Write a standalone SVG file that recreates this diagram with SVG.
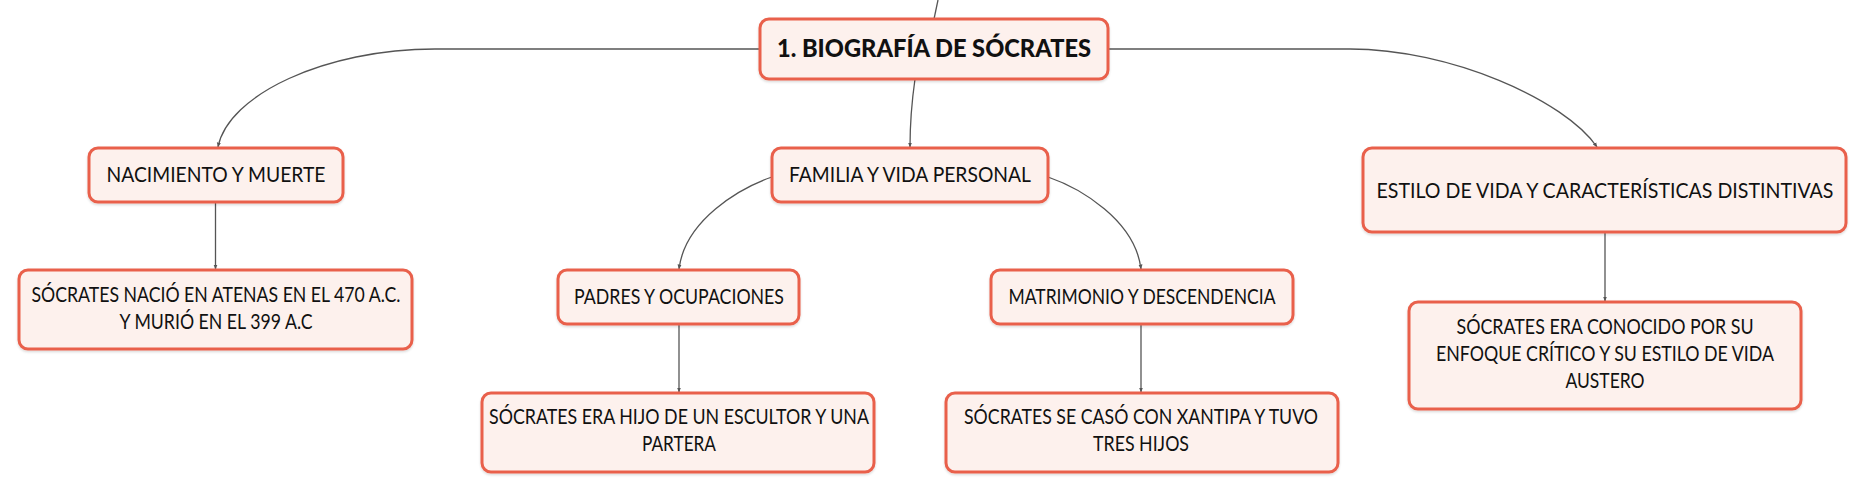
<svg xmlns="http://www.w3.org/2000/svg" width="1869" height="492" viewBox="0 0 1869 492">
<defs>
<style>
.box{fill:#fdf1ed;stroke:#e9604b;stroke-width:3;filter:url(#sh)}
.t{font-family:Lato,"Open Sans","Liberation Sans",sans-serif;font-size:20.5px;fill:#111;text-anchor:middle}
.title{font-family:Lato,"Open Sans","Liberation Sans",sans-serif;font-size:24px;font-weight:900;fill:#111;text-anchor:middle}
.c{fill:none;stroke:#555;stroke-width:1.3;marker-end:url(#ah)}
</style>
<marker id="ah" viewBox="0 0 10 10" refX="9" refY="5" markerWidth="5" markerHeight="5" markerUnits="userSpaceOnUse" orient="auto">
<path d="M0,1 L10,5 L0,9 z" fill="#555"/>
</marker>
<filter id="sh" x="-5%" y="-10%" width="110%" height="130%">
<feDropShadow dx="0" dy="1.5" stdDeviation="1.2" flood-color="#000" flood-opacity="0.15"/>
</filter>
</defs>
<g id="connectors">
<path class="c" d="M938,0 L934,19" style="marker-end:none"/>
<path class="c" d="M760,49 H435 C325,49 228,95 218,147"/>
<path class="c" d="M1108,49 H1350 C1450,49 1565,100 1597,147"/>
<path class="c" d="M915,79 C912,100 910,120 910,147"/>
<path class="c" d="M772,177 C740,188 685,220 679,269"/>
<path class="c" d="M1048,177 C1080,188 1135,220 1141,269"/>
<path class="c" d="M215.5,202 V269"/>
<path class="c" d="M679,324 V392"/>
<path class="c" d="M1141,324 V392"/>
<path class="c" d="M1605,232 V301"/>
</g>
<g id="root">
<rect class="box" x="760" y="19" width="348" height="60" rx="9"/>
<text class="title" x="934" y="57" textLength="314" lengthAdjust="spacingAndGlyphs">1. BIOGRAFÍA DE SÓCRATES</text>
</g>
<g id="nacimiento">
<rect class="box" x="89" y="148" width="254" height="54" rx="9"/>
<text class="t" x="216" y="182" textLength="219" lengthAdjust="spacingAndGlyphs">NACIMIENTO Y MUERTE</text>
</g>
<g id="familia">
<rect class="box" x="772" y="148" width="276" height="54" rx="9"/>
<text class="t" x="910" y="182" textLength="242" lengthAdjust="spacingAndGlyphs">FAMILIA Y VIDA PERSONAL</text>
</g>
<g id="estilo">
<rect class="box" x="1363" y="148" width="483" height="84" rx="9"/>
<text class="t" x="1605" y="198" textLength="457" lengthAdjust="spacingAndGlyphs">ESTILO DE VIDA Y CARACTERÍSTICAS DISTINTIVAS</text>
</g>
<g id="nacio">
<rect class="box" x="19" y="270" width="393" height="79" rx="9"/>
<text class="t" x="216" y="302" textLength="369" lengthAdjust="spacingAndGlyphs">SÓCRATES NACIÓ EN ATENAS EN EL 470 A.C.</text>
<text class="t" x="216" y="329" textLength="193" lengthAdjust="spacingAndGlyphs">Y MURIÓ EN EL 399 A.C</text>
</g>
<g id="padres">
<rect class="box" x="558" y="270" width="241" height="54" rx="9"/>
<text class="t" x="679" y="304" textLength="210" lengthAdjust="spacingAndGlyphs">PADRES Y OCUPACIONES</text>
</g>
<g id="hijo">
<rect class="box" x="482" y="393" width="392" height="79" rx="9"/>
<text class="t" x="679" y="424" textLength="380" lengthAdjust="spacingAndGlyphs">SÓCRATES ERA HIJO DE UN ESCULTOR Y UNA</text>
<text class="t" x="679" y="451" textLength="74" lengthAdjust="spacingAndGlyphs">PARTERA</text>
</g>
<g id="matrimonio">
<rect class="box" x="991" y="270" width="302" height="54" rx="9"/>
<text class="t" x="1142" y="304" textLength="267" lengthAdjust="spacingAndGlyphs">MATRIMONIO Y DESCENDENCIA</text>
</g>
<g id="caso">
<rect class="box" x="946" y="393" width="392" height="79" rx="9"/>
<text class="t" x="1141" y="424" textLength="354" lengthAdjust="spacingAndGlyphs">SÓCRATES SE CASÓ CON XANTIPA Y TUVO</text>
<text class="t" x="1141" y="451" textLength="96" lengthAdjust="spacingAndGlyphs">TRES HIJOS</text>
</g>
<g id="conocido">
<rect class="box" x="1409" y="302" width="392" height="107" rx="9"/>
<text class="t" x="1605" y="334" textLength="297" lengthAdjust="spacingAndGlyphs">SÓCRATES ERA CONOCIDO POR SU</text>
<text class="t" x="1605" y="361" textLength="338" lengthAdjust="spacingAndGlyphs">ENFOQUE CRÍTICO Y SU ESTILO DE VIDA</text>
<text class="t" x="1605" y="388" textLength="79" lengthAdjust="spacingAndGlyphs">AUSTERO</text>
</g>
</svg>
